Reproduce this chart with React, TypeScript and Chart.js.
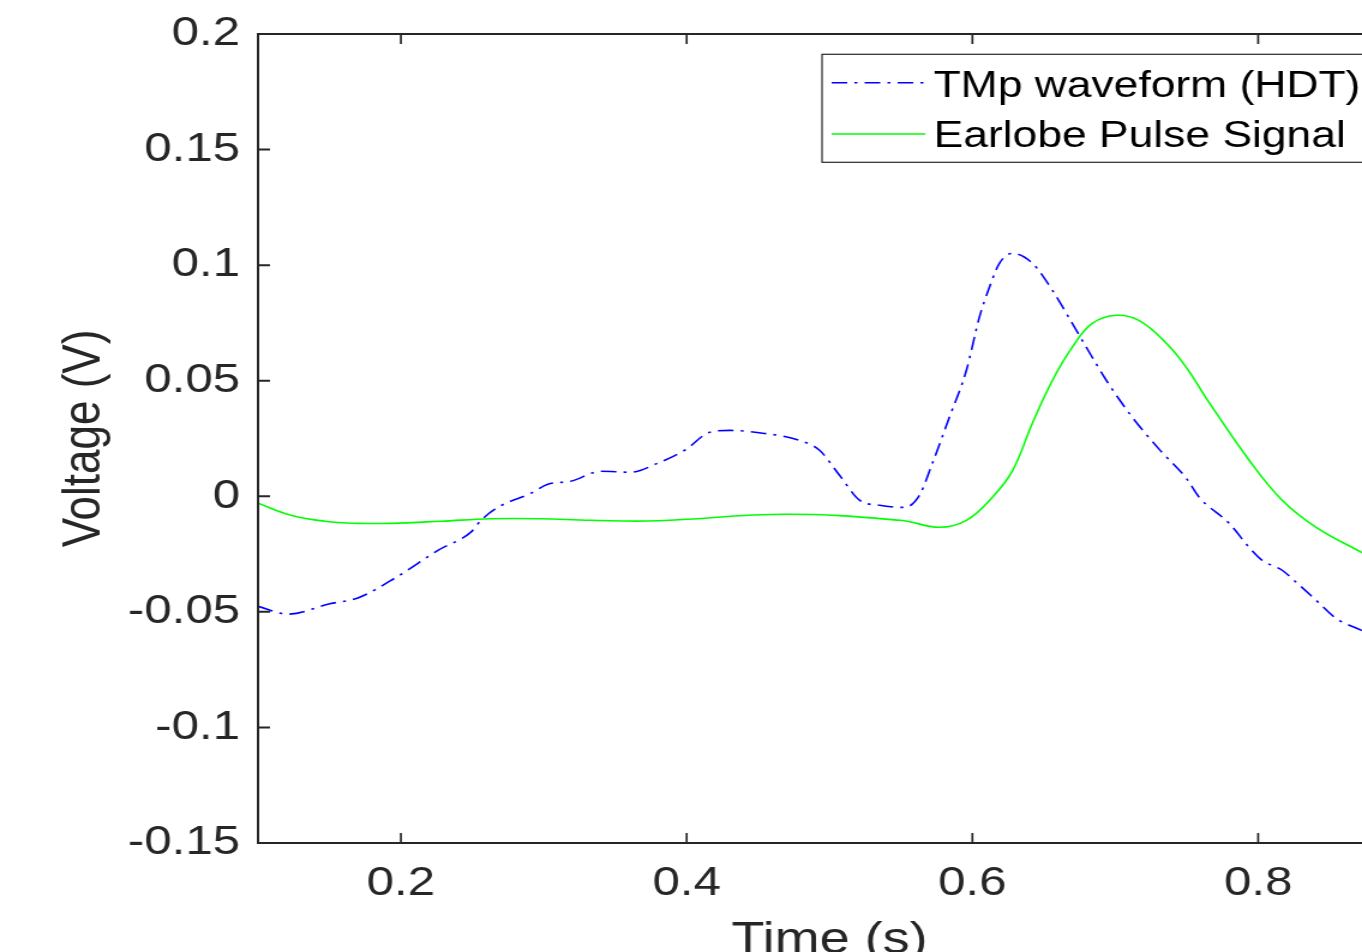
import { useEffect, useRef } from "react";
import { Chart, registerables } from "chart.js";

Chart.register(...registerables);

// ---- data ----
const seriesLabels = ["TMp waveform (HDT)", "Earlobe Pulse Signal"];

const tmpTime = [
  0.1, 0.121, 0.1503, 0.1699, 0.1979, 0.2259, 0.249, 0.2559, 0.2678, 0.2909,
  0.3028, 0.3189, 0.3399, 0.3608, 0.3797, 0.3993, 0.4161, 0.4301, 0.4545, 0.479,
  0.493, 0.507, 0.521, 0.535, 0.5524, 0.5629, 0.572, 0.5839, 0.5958, 0.6049,
  0.6119, 0.6189, 0.628, 0.642, 0.6559, 0.6699, 0.6797, 0.6937, 0.7119, 0.7308,
  0.7497, 0.7587, 0.7797, 0.7937, 0.8028, 0.8168, 0.8266, 0.8406, 0.8545, 0.873,
];
const tmpVoltage = [
  -0.0476, -0.051, -0.0465, -0.044, -0.0346, -0.0234, -0.0155, -0.0105, -0.0048, 0.0013,
  0.0052, 0.0065, 0.0108, 0.0104, 0.0143, 0.0202, 0.0277, 0.0285, 0.0272, 0.0242,
  0.0199, 0.0091, -0.0017, -0.0039, -0.0048, 0.0004, 0.0143, 0.0342, 0.0545, 0.0775,
  0.0904, 0.1008, 0.1051, 0.1008, 0.0892, 0.0748, 0.0645, 0.0502, 0.0342, 0.0203,
  0.0078, -0.0004, -0.0117, -0.0221, -0.0277, -0.032, -0.0372, -0.045, -0.0528, -0.0582,
];

const earTime = [
  0.1, 0.1231, 0.1469, 0.1699, 0.193, 0.228, 0.2629, 0.2979, 0.3329, 0.3797,
  0.4692, 0.5497, 0.5769, 0.5958, 0.614, 0.628, 0.642, 0.6559, 0.6699, 0.6839,
  0.7007, 0.7168, 0.7357, 0.7497, 0.7636, 0.7937, 0.8168, 0.8406, 0.873,
];
const earVoltage = [
  -0.003, -0.0082, -0.0108, -0.0117, -0.0117, -0.0108, -0.0097, -0.0097, -0.0104, -0.0106,
  -0.0078, -0.0104, -0.0134, -0.0104, -0.0004, 0.011, 0.0316, 0.05, 0.0645, 0.0748,
  0.0783, 0.076, 0.0662, 0.0558, 0.0425, 0.0156, -0.0017, -0.0134, -0.0245,
];

const xTicks = [0.2, 0.4, 0.6, 0.8];
const yTicks = [-0.15, -0.1, -0.05, 0, 0.05, 0.1, 0.15, 0.2];
const xRange = [0.1, 0.9];
const yRange = [-0.15, 0.2];

// ---- styling ----
const STRETCH = 1.2;
const W = 1200;
const H = 1000;
const AXIS = "#262626";
const FONT = "'Liberation Sans', Arial, Helvetica, sans-serif";
const BLUE_DASH = [13, 6, 2.5, 6];

const fmt = (v: number) => String(Number(v.toFixed(3)));

const framePlugin = {
  id: "matlabFrame",
  afterDatasetsDraw(chart: any) {
    const { ctx, chartArea: a, scales } = chart;
    ctx.save();
    ctx.strokeStyle = AXIS;
    ctx.setLineDash([]);
    const tl = 10;
    ctx.lineWidth = 1.7;
    ctx.beginPath();
    for (const t of scales.x.ticks) {
      const px = scales.x.getPixelForValue(t.value);
      ctx.moveTo(px, a.bottom);
      ctx.lineTo(px, a.bottom - tl);
      ctx.moveTo(px, a.top);
      ctx.lineTo(px, a.top + tl);
    }
    ctx.stroke();
    ctx.lineWidth = 2;
    ctx.beginPath();
    for (const t of scales.y.ticks) {
      const py = scales.y.getPixelForValue(t.value);
      ctx.moveTo(a.left, py);
      ctx.lineTo(a.left + tl, py);
      ctx.moveTo(a.right, py);
      ctx.lineTo(a.right - tl, py);
    }
    ctx.stroke();
    ctx.lineWidth = 2;
    ctx.strokeRect(a.left, a.top, a.right - a.left, a.bottom - a.top);

    // legend (inside, north-east)
    const ds = chart.data.datasets;
    ctx.font = `37px ${FONT}`;
    const textX = 778;
    let maxW = 0;
    for (const d of ds) maxW = Math.max(maxW, ctx.measureText(d.label).width);
    const boxL = 685;
    const boxT = a.top + 20.3;
    const boxR = textX + maxW + 10;
    const boxB = a.top + 128.3;
    ctx.fillStyle = "#ffffff";
    ctx.fillRect(boxL, boxT, boxR - boxL, boxB - boxT);
    ctx.lineWidth = 1.2;
    ctx.strokeStyle = AXIS;
    ctx.strokeRect(boxL, boxT, boxR - boxL, boxB - boxT);
    const sampleY = [a.top + 48.7, a.top + 100];
    const baseY = [a.top + 63.3, a.top + 112.7];
    ds.forEach((d: any, i: number) => {
      ctx.beginPath();
      ctx.strokeStyle = d.borderColor;
      ctx.lineWidth = d.borderWidth;
      ctx.setLineDash(d.borderDash || []);
      ctx.moveTo(693, sampleY[i]);
      ctx.lineTo(771, sampleY[i]);
      ctx.stroke();
      ctx.setLineDash([]);
      ctx.fillStyle = "#000000";
      ctx.textBaseline = "alphabetic";
      ctx.textAlign = "left";
      ctx.fillText(d.label, textX, baseY[i]);
    });
    ctx.restore();
  },
};

export default function App() {
  const ref = useRef<HTMLCanvasElement | null>(null);

  useEffect(() => {
    if (!ref.current) return;
    const chart = new Chart(ref.current, {
      type: "line",
      data: {
        datasets: [
          {
            label: seriesLabels[0],
            data: tmpTime.map((t, i) => ({ x: t, y: tmpVoltage[i] })),
            borderColor: "#0000ff",
            borderWidth: 1.6,
            borderDash: BLUE_DASH,
            pointRadius: 0,
            fill: false,
            cubicInterpolationMode: "monotone",
            order: 1,
          },
          {
            label: seriesLabels[1],
            data: earTime.map((t, i) => ({ x: t, y: earVoltage[i] })),
            borderColor: "#00ff00",
            borderWidth: 1.6,
            pointRadius: 0,
            fill: false,
            tension: 0.4,
            order: 0,
          },
        ],
      },
      options: {
        animation: false,
        responsive: false,
        devicePixelRatio: 1,
        layout: { padding: { left: 44, top: 34, right: 32.5, bottom: 32.6 } },
        plugins: { legend: { display: false }, tooltip: { enabled: false } },
        scales: {
          x: {
            type: "linear",
            min: xRange[0],
            max: xRange[1],
            grid: { display: false, drawTicks: false },
            border: { display: false },
            afterBuildTicks: (s: any) => {
              s.ticks = xTicks.map((v) => ({ value: v }));
            },
            afterFit: (s: any) => {
              s.height = 124.4;
              s.paddingLeft = 0;
              s.paddingRight = 0;
            },
            ticks: {
              autoSkip: false,
              maxRotation: 0,
              padding: 16,
              color: AXIS,
              font: { size: 41, family: FONT },
              callback: (v: any) => fmt(Number(v)),
            },
            title: {
              display: true,
              text: "Time (s)",
              color: AXIS,
              padding: 0,
              font: { size: 45, family: FONT },
            },
          },
          y: {
            type: "linear",
            min: yRange[0],
            max: yRange[1],
            grid: { display: false, drawTicks: false },
            border: { display: false },
            afterBuildTicks: (s: any) => {
              s.ticks = yTicks.map((v) => ({ value: v }));
            },
            afterFit: (s: any) => {
              s.width = 171;
              s.paddingTop = 0;
              s.paddingBottom = 0;
            },
            ticks: {
              autoSkip: false,
              padding: 15,
              color: AXIS,
              font: { size: 41, family: FONT },
              callback: (v: any) => fmt(Number(v)),
            },
            title: {
              display: true,
              text: "Voltage (V)",
              color: AXIS,
              padding: 0,
              font: { size: 44, family: FONT },
            },
          },
        },
      },
      plugins: [framePlugin],
    } as any);
    return () => chart.destroy();
  }, []);

  return (
    <div
      style={{
        position: "fixed",
        left: 0,
        top: 0,
        width: 1362,
        height: 952,
        overflow: "hidden",
        background: "#ffffff",
      }}
    >
      <div
        style={{
          width: W,
          height: H,
          transform: `scaleX(${STRETCH})`,
          transformOrigin: "0 0",
        }}
      >
        <canvas ref={ref} width={W} height={H} style={{ width: W, height: H }} />
      </div>
    </div>
  );
}
